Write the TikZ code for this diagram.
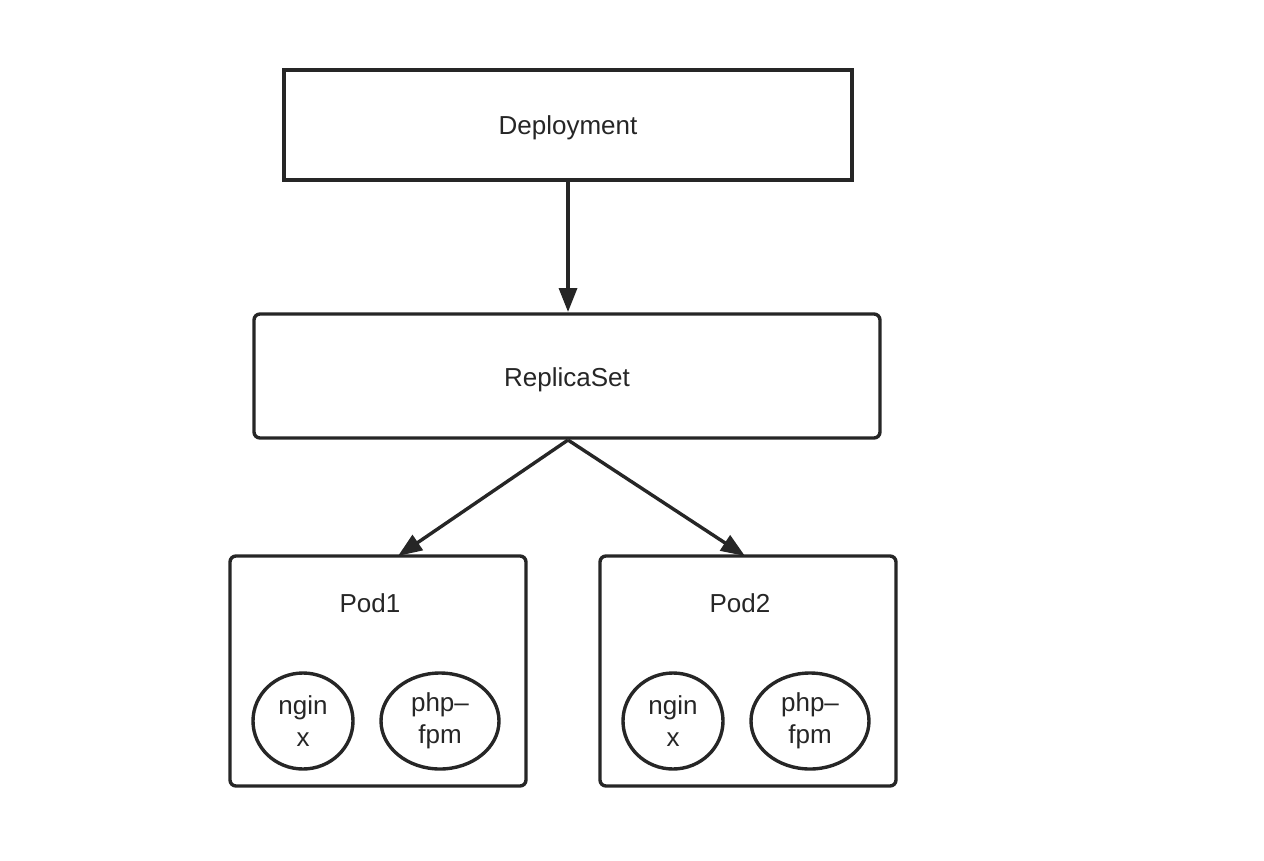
\documentclass[tikz,border=0pt]{standalone}
\usepackage{fontspec}
\setmainfont{Liberation Sans}
\usetikzlibrary{arrows.meta,shapes.geometric}
\definecolor{ink}{HTML}{262626}
\begin{document}
\begin{tikzpicture}[x=1pt,y=-1pt,
  box/.style={draw=ink,line width=3.4pt,fill=white},
  lbl/.style={font=\fontsize{26}{32}\selectfont,text=ink,align=center},
  ctr/.style={draw=ink,line width=3.4pt,ellipse,minimum width=#1,minimum height=96pt,inner sep=0pt,font=\fontsize{26}{32}\selectfont,text=ink,align=center},
  arr/.style={draw=ink,line width=3.4pt,-{Triangle[length=24pt,width=18pt]}}]
\useasboundingbox (0,0) rectangle (1264,860);
% boxes
\draw[box] (284,70) rectangle (852,180);
\node[lbl] (dep) at (568,128) {Deployment};
\coordinate (depb) at (568,180);
\draw[box,rounded corners=6pt] (254,314) rectangle (880,438);
\node[lbl] (rs) at (567,380) {ReplicaSet};
\coordinate (rst) at (568,312);
\coordinate (rsb) at (568,440);
\draw[box,rounded corners=6pt] (230,556) rectangle (526,786);
\draw[box,rounded corners=6pt] (600,556) rectangle (896,786);
\coordinate (p1t) at (398,556);
\coordinate (p2t) at (745,556);
\node[lbl] (p1) at (370,603) {Pod1};
\node[lbl] (p2) at (740,603) {Pod2};
\node[ctr=100pt] (n1) at (303,721) {ngin\\x};
\node[ctr=118pt] (f1) at (440,721) {\raisebox{0pt}[0pt][0pt]{}php–\\fpm};
\node[ctr=100pt] (n2) at (673,721) {ngin\\x};
\node[ctr=118pt] (f2) at (810,721) {php–\\fpm};
% arrows
\draw[arr] (depb) -- (rst);
\draw[arr] (rsb) -- (p1t);
\draw[arr] (rsb) -- (p2t);
\end{tikzpicture}
\end{document}
